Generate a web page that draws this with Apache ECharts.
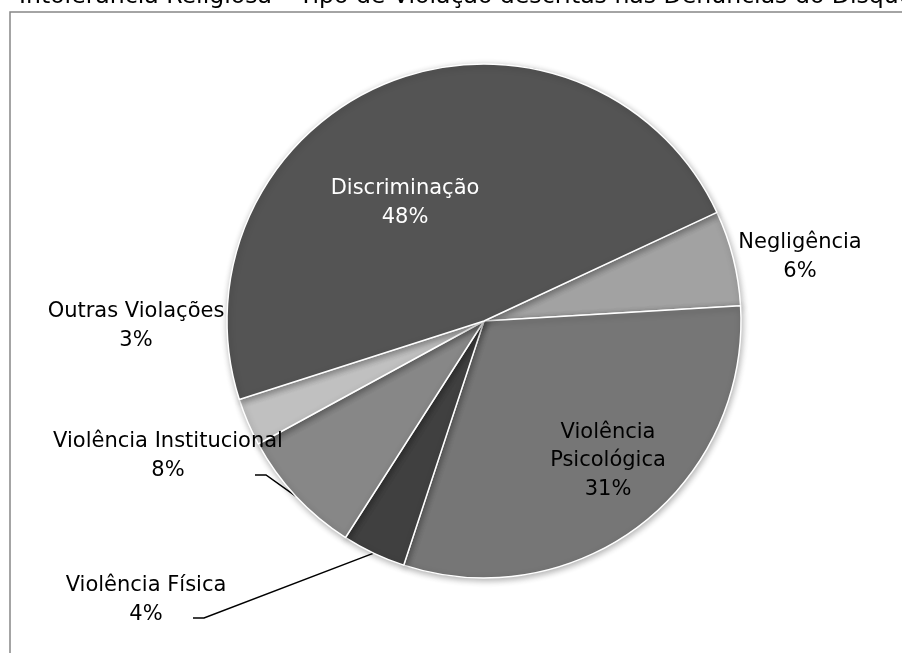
<!DOCTYPE html>
<html>
<head>
<meta charset="utf-8">
<script src="https://cdn.jsdelivr.net/npm/echarts@6/dist/echarts.min.js"></script>
<style>
html,body{margin:0;padding:0;background:#fff;}
#c{width:902px;height:653px;}
</style>
</head>
<body>
<div id="c"></div>
<script>
const titleText = 'Intolerância Religiosa – Tipo de Violação descritas nas Denúncias do Disque 100';
const categories = ['Negligência', 'Violência Psicológica', 'Violência Física', 'Violência Institucional', 'Outras Violações', 'Discriminação'];
const labelNames = ['Negligência', 'Violência\nPsicológica', 'Violência Física', 'Violência Institucional', 'Outras Violações', 'Discriminação'];
const values = [6, 31, 4, 8, 3, 48];
const colors = ['#a2a2a2', '#767676', '#404040', '#878787', '#c0c0c0', '#545454'];

const CX = 484, CY = 321, R = 257, START = 25;
// label block centres (layout)
const labelPos = [[800, 257], [608, 461], [146, 600], [168, 456], [136, 326], [405, 203]];
const labelColor = ['#000', '#000', '#000', '#000', '#000', '#fff'];
const hasLine = [false, false, true, true, false, false];

const total = values.reduce((a, b) => a + b, 0);
function midAngle(i) {
  let acc = 0;
  for (let k = 0; k < i; k++) acc += values[k];
  const a = START - (acc + values[i] / 2) / total * 360;
  return a * Math.PI / 180;
}

const chart = echarts.init(document.getElementById('c'), null, {renderer: 'canvas'});
chart.setOption({
  animation: false,
  backgroundColor: '#fff',
  title: {
    text: titleText,
    left: 14,
    top: -20,
    textStyle: {fontFamily: 'DejaVu Sans', fontSize: 23.6, fontWeight: 'normal', color: '#000'}
  },
  graphic: [{
    type: 'rect',
    shape: {x: 10, y: 12, width: 1000, height: 1000},
    style: {fill: 'none', stroke: '#878787', lineWidth: 1.5},
    z: -1
  }],
  series: [{
    type: 'pie',
    center: [CX, CY],
    radius: R,
    startAngle: START,
    clockwise: true,
    avoidLabelOverlap: false,
    data: categories.map((c, i) => ({
      name: c,
      value: values[i],
      itemStyle: {color: colors[i]},
      label: {color: labelColor[i]},
      labelLine: {show: hasLine[i]}
    })),
    itemStyle: {
      borderColor: '#fff', borderWidth: 1.5,
      shadowBlur: 6, shadowColor: 'rgba(0,0,0,0.3)', shadowOffsetX: 1, shadowOffsetY: 2
    },
    label: {
      show: true,
      position: 'outside',
      fontFamily: 'DejaVu Sans',
      fontSize: 21,
      lineHeight: 28.5,
      align: 'center',
      formatter: p => labelNames[p.dataIndex] + '\n' + p.value + '%'
    },
    labelLine: {lineStyle: {color: '#000', width: 1.5}, smooth: false},
    labelLayout: function (params) {
      const i = params.dataIndex;
      const [x, y] = labelPos[i];
      const out = {x: x, y: y, align: 'center', verticalAlign: 'middle'};
      if (hasLine[i]) {
        const a = midAngle(i);
        const ex = CX + R * Math.cos(a), ey = CY - R * Math.sin(a);
        const endX = i === 2 ? x + 47 : x + 87;
        const endY = i === 2 ? y + 18 : y + 19;
        out.labelLinePoints = [[ex, ey], [endX + 11, endY], [endX, endY]];
      }
      return out;
    }
  }]
});
</script>
</body>
</html>
